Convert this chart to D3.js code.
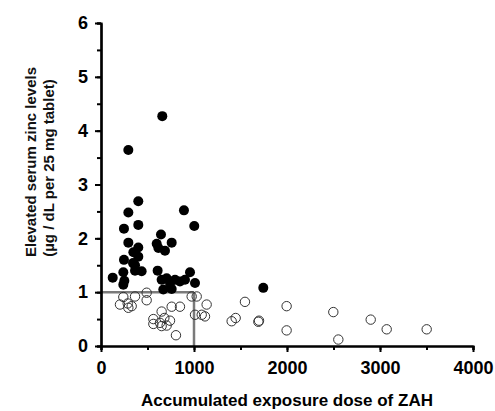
<!DOCTYPE html>
<html>
<head>
<meta charset="utf-8">
<script src="https://cdn.jsdelivr.net/npm/d3@7"></script>
<style>
  body { margin: 0; background: #fff; }
  text { font-family: Arial, "Liberation Sans", sans-serif; }
  .tick text { font-weight: 700; font-size: 18px; fill: #000; }
</style>
</head>
<body>
<svg id="chart"></svg>
<script>
// dose values (x) and zinc levels (y) for each group
let highDose = [659, 294, 401, 294, 892, 401, 247, 1003, 645, 294, 760, 599, 617, 401, 688, 348, 401, 247, 344, 366,
                126, 240, 251, 437, 366, 609, 652, 670, 742, 796, 849, 903, 957, 1011, 760, 706, 240, 1745];
let highZinc = [4.27, 3.64, 2.69, 2.48, 2.52, 2.25, 2.18, 2.23, 2.07, 1.92, 1.92, 1.90, 1.82, 1.83, 1.77, 1.74, 1.66, 1.60, 1.54, 1.50,
                1.27, 1.37, 1.21, 1.39, 1.40, 1.40, 1.23, 1.05, 1.17, 1.23, 1.20, 1.23, 1.37, 1.17, 1.06, 1.26, 1.14, 1.08];

let lowDose = [240, 204, 287, 330, 366, 491, 491, 294, 652, 760, 849, 563, 563, 634, 681, 706, 742, 652, 806,
               975, 1029, 1011, 1083, 1118, 1136, 1405, 1448, 1548, 1699, 1692, 1996, 1996, 2498, 2552, 2900, 3072, 3502];
let lowZinc = [0.91, 0.77, 0.79, 0.74, 0.92, 0.99, 0.85, 0.71, 0.64, 0.73, 0.73, 0.50, 0.41, 0.43, 0.52, 0.38, 0.47, 0.37, 0.20,
               0.92, 0.92, 0.58, 0.58, 0.55, 0.77, 0.46, 0.52, 0.82, 0.47, 0.45, 0.74, 0.29, 0.63, 0.12, 0.49, 0.31, 0.31];

let xTicks = [0, 1000, 2000, 3000, 4000];
let yTicks = [0, 1, 2, 3, 4, 5, 6];
let cutoffDose = 1000;
let cutoffZinc = 1;

let width = 495;
let height = 411;
let margin = { top: 23, right: 22, bottom: 65, left: 101 };

let svg = d3.select("#chart")
  .attr("width", width)
  .attr("height", height);

let xScale = d3.scaleLinear()
  .domain([0, 4000])
  .range([margin.left, width - margin.right]);

let yScale = d3.scaleLinear()
  .domain([0, 6])
  .range([height - margin.bottom, margin.top]);

// cutoff lines (grey)
svg.append("line")
  .attr("x1", xScale(0)).attr("x2", xScale(cutoffDose))
  .attr("y1", yScale(cutoffZinc)).attr("y2", yScale(cutoffZinc))
  .attr("stroke", "#7a7a7a").attr("stroke-width", 2.5);
svg.append("line")
  .attr("x1", xScale(cutoffDose)).attr("x2", xScale(cutoffDose))
  .attr("y1", yScale(0)).attr("y2", yScale(cutoffZinc))
  .attr("stroke", "#7a7a7a").attr("stroke-width", 2.5);

// open circles
svg.selectAll(".low")
  .data(d3.zip(lowDose, lowZinc))
  .enter()
  .append("circle")
  .attr("class", "low")
  .attr("cx", d => xScale(d[0]))
  .attr("cy", d => yScale(d[1]))
  .attr("r", 4.7)
  .attr("fill", "none")
  .attr("stroke", "#333")
  .attr("stroke-width", 1);

// filled circles
svg.selectAll(".high")
  .data(d3.zip(highDose, highZinc))
  .enter()
  .append("circle")
  .attr("class", "high")
  .attr("cx", d => xScale(d[0]))
  .attr("cy", d => yScale(d[1]))
  .attr("r", 5)
  .attr("fill", "#000");

// minor ticks
let xMinor = svg.append("g")
  .attr("transform", `translate(0, ${yScale(0)})`)
  .call(d3.axisBottom(xScale).tickValues(d3.range(0, 4001, 500)).tickSize(4).tickFormat(""));
let yMinor = svg.append("g")
  .attr("transform", `translate(${xScale(0)}, 0)`)
  .call(d3.axisLeft(yScale).tickValues(d3.range(0, 6.01, 0.5)).tickSize(4).tickFormat(""));

// main axes
let xAxis = svg.append("g")
  .attr("transform", `translate(0, ${yScale(0)})`)
  .call(d3.axisBottom(xScale).tickValues(xTicks).tickFormat(d3.format("d")).tickSize(6).tickSizeOuter(0).tickPadding(9));
let yAxis = svg.append("g")
  .attr("transform", `translate(${xScale(0)}, 0)`)
  .call(d3.axisLeft(yScale).tickValues(yTicks).tickFormat(d3.format("d")).tickSize(6).tickSizeOuter(0).tickPadding(7));

[xMinor, yMinor, xAxis, yAxis].forEach(g => {
  g.selectAll("path").attr("stroke", "#000").attr("stroke-width", 2.2);
  g.selectAll("line").attr("stroke", "#000").attr("stroke-width", 2);
});

// axis titles
svg.append("text")
  .attr("x", 287)
  .attr("y", 406)
  .attr("text-anchor", "middle")
  .attr("font-size", 17)
  .attr("font-weight", "bold")
  .text("Accumulated exposure dose of ZAH");

svg.append("text")
  .attr("transform", "translate(36, 162) rotate(-90)")
  .attr("text-anchor", "middle")
  .attr("font-size", 15)
  .attr("font-weight", "bold")
  .attr("fill", "#111")
  .text("Elevated serum zinc levels");

svg.append("text")
  .attr("transform", "translate(54, 168) rotate(-90)")
  .attr("text-anchor", "middle")
  .attr("font-size", 15)
  .attr("font-weight", "bold")
  .attr("fill", "#111")
  .text("(µg / dL per 25 mg tablet)");
</script>
</body>
</html>
